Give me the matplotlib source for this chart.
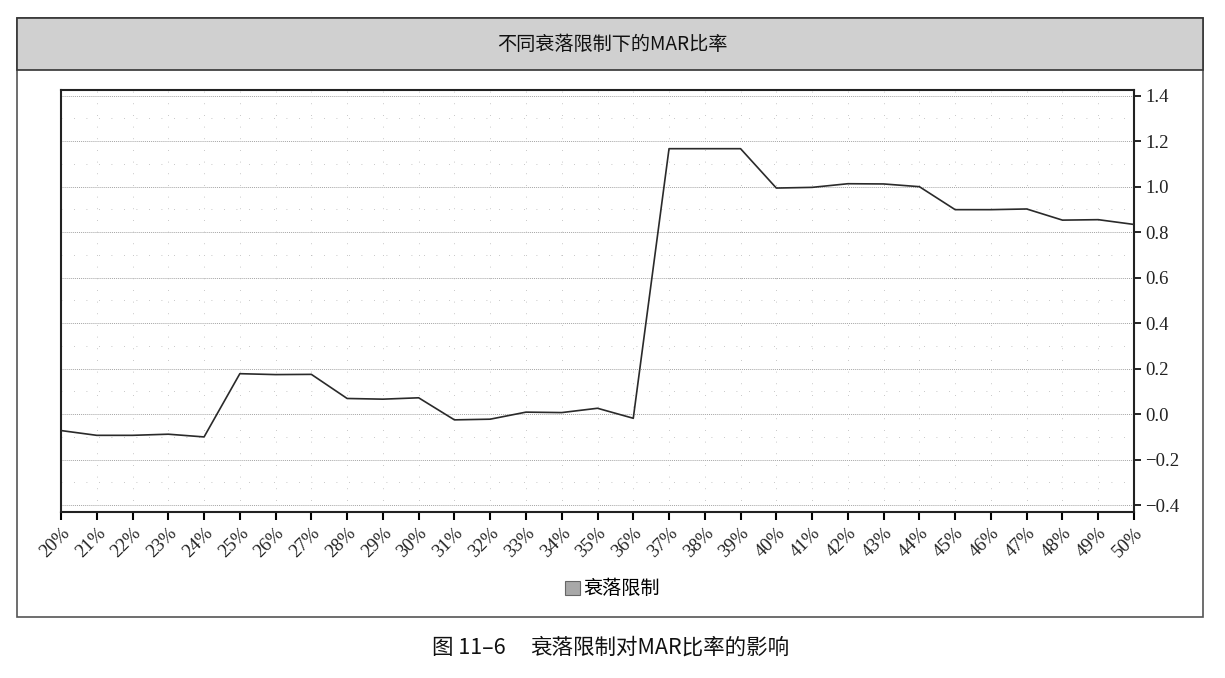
import matplotlib.pyplot as plt
import matplotlib.patches as mpatches
import numpy as np

plt.rcParams['font.family'] = ['Noto Sans CJK SC', 'DejaVu Sans']

# 衰落限制 (drawdown limit) and the MAR ratio
limits = ['20%', '21%', '22%', '23%', '24%', '25%', '26%', '27%', '28%', '29%',
          '30%', '31%', '32%', '33%', '34%', '35%', '36%', '37%', '38%', '39%',
          '40%', '41%', '42%', '43%', '44%', '45%', '46%', '47%', '48%', '49%', '50%']
mar = [-0.072, -0.093, -0.093, -0.088, -0.100, 0.178, 0.174, 0.175, 0.069, 0.066,
       0.072, -0.025, -0.022, 0.009, 0.007, 0.026, -0.018, 1.167, 1.167, 1.167,
       0.994, 0.997, 1.013, 1.012, 1.000, 0.899, 0.899, 0.902, 0.853, 0.855, 0.834]
yticks = [-0.4, -0.2, 0.0, 0.2, 0.4, 0.6, 0.8, 1.0, 1.2, 1.4]

W, H = 1225, 678
fig = plt.figure(figsize=(W / 100, H / 100), dpi=100)


def fx(px):
    return px / W


def fy(py):
    return 1 - py / H


# outer frame and grey header band
fig.patches.append(mpatches.Rectangle((fx(17), fy(617)), fx(1203) - fx(17), fy(18) - fy(617),
                                      transform=fig.transFigure, facecolor='white',
                                      edgecolor='#555555', lw=1.2, zorder=0))
fig.patches.append(mpatches.Rectangle((fx(17), fy(70)), fx(1203) - fx(17), fy(18) - fy(70),
                                      transform=fig.transFigure, facecolor='#d0d0d0',
                                      edgecolor='#333333', lw=1.2, zorder=1))
fig.text(0.5, fy(44), '不同衰落限制下的MAR比率', ha='center', va='center', fontsize=13.8, color='#111111')

ax = fig.add_axes([fx(61), fy(512), fx(1134) - fx(61), fy(90) - fy(512)])
ax.set_zorder(5)
x = np.arange(len(limits))
ax.plot(x, mar, color='#2a2a2a', lw=1.2, zorder=3)

ax.set_xlim(0, len(limits) - 1)
ax.set_ylim(-0.43, 1.425)
ax.yaxis.tick_right()
ax.set_yticks(yticks)
ax.set_yticklabels(['\u2212' + f'{abs(v):.1f}' if v < 0 else f'{v:.1f}' for v in yticks],
                   family='Liberation Serif', fontsize=13.5, color='#222222')
ax.set_xticks(x)
ax.set_xticklabels(limits, rotation=45, ha='right', rotation_mode='anchor',
                   family='Liberation Serif', fontsize=13.5, color='#222222')
ax.tick_params(axis='x', direction='out', length=6, width=1.5, pad=3)
ax.tick_params(axis='y', direction='out', length=5, width=1.2, pad=3)
for s in ax.spines.values():
    s.set_linewidth(1.5)
    s.set_color('#222222')

# major horizontal grid, fine dotted
for v in yticks:
    ax.axhline(v, color='#a5a5a5', lw=0.7, ls=(0, (1, 1)), zorder=1)
# sparse dot grid
for v in np.arange(-0.4, 1.41, 0.1):
    if round(v * 10) % 2:
        ax.axhline(v, color='#b5b5b5', lw=0.6, ls=(0, (1, 14)), zorder=1)
for xi in x[1:-1]:
    ax.axvline(xi, color='#b5b5b5', lw=0.6, ls=(0, (1, 13)), zorder=1)

handle = mpatches.Patch(facecolor='#a8a8a8', edgecolor='#666666', lw=0.8)
fig.legend([handle], ['衰落限制'], loc='center', bbox_to_anchor=(0.5, fy(589)),
           frameon=False, fontsize=13.8, handlelength=0.75, handleheight=0.75, handletextpad=0.2)

fig.text(fx(432), fy(648), '图 11–6', ha='left', va='center', fontsize=15.5, color='#111111')
fig.text(fx(530), fy(648), '衰落限制对MAR比率的影响', ha='left', va='center',
         fontsize=15.5, color='#111111')

fig.savefig('out.png', dpi=100)
